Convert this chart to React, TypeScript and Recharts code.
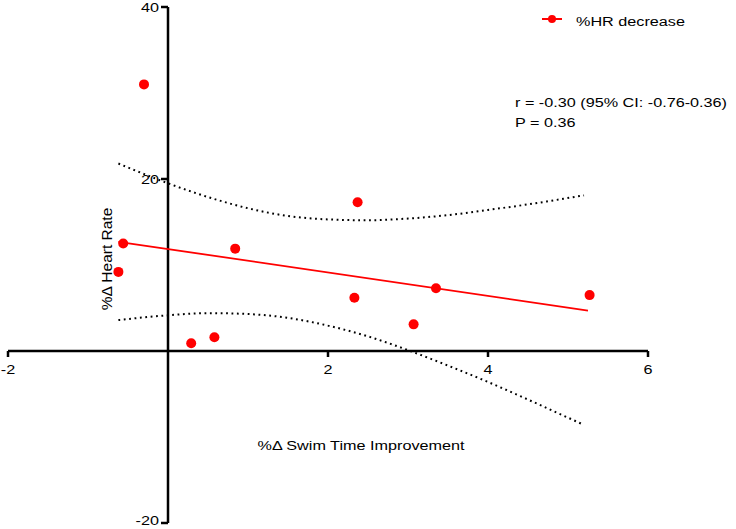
import React from 'react';
import { ComposedChart, XAxis, YAxis, Line, Scatter, ReferenceLine, ReferenceDot, Customized } from 'recharts';

// Observed data points (% swim time improvement vs % heart rate change)
const pointX = [-0.30, -0.56, -0.62, 0.84, 0.29, 0.58, 2.37, 2.33, 3.35, 3.07, 5.27];
const pointY = [31.0, 12.5, 9.2, 11.9, 0.9, 1.6, 17.3, 6.2, 7.3, 3.1, 6.5];

// Regression line end points
const fitX = [-0.62, 5.25];
const fitY = [12.7, 4.7];

// 95% confidence band
const bandX = [-0.62, 0, 0.5, 1, 1.5, 2, 2.5, 3, 3.5, 4, 4.5, 5.2];
const upperY = [21.8, 19.5, 17.9, 16.6, 15.7, 15.3, 15.2, 15.4, 15.8, 16.4, 17.05, 18.1];
const lowerY = [3.6, 4.15, 4.4, 4.3, 3.85, 2.95, 1.7, 0.1, -1.7, -3.6, -5.65, -8.6];

const xTicks = [-2, 2, 4, 6];
const yTicks = [40, 20, -20];

const legendLabel = '%HR decrease';
const xTitle = '%\u0394 Swim Time Improvement';
const yTitle = '%\u0394 Heart Rate';
const statLines = ['r = -0.30 (95% CI: -0.76-0.36)', 'P = 0.36'];

const points = pointX.map((x, i) => ({ x, y: pointY[i] }));
const fit = fitX.map((x, i) => ({ x, y: fitY[i] }));
const upper = bandX.map((x, i) => ({ x, y: upperY[i] }));
const lower = bandX.map((x, i) => ({ x, y: lowerY[i] }));

const FONT = '"Liberation Sans", Arial, Helvetica, sans-serif';
const RED = '#ff0000';
const SX = 1.2;
const FS = 13.5;

function SText({ x, y, anchor = 'start', size = FS, children }: any) {
  return (
    <g transform={`translate(${x},${y}) scale(${SX},1)`}>
      <text x={0} y={0} textAnchor={anchor} fontFamily={FONT} fontSize={size} fill="#000">
        {children}
      </text>
    </g>
  );
}

const XTickShape = (label: number) => (props: any) => {
  const { cx, cy } = props;
  return (
    <g>
      <line x1={cx} y1={cy} x2={cx} y2={cy + 6} stroke="#000" strokeWidth={2.5} />
      <SText x={cx} y={cy + 22.5} anchor="middle">{String(label)}</SText>
    </g>
  );
};

const YTickShape = (label: number) => (props: any) => {
  const { cx, cy } = props;
  return (
    <g>
      <line x1={cx - 7} y1={cy} x2={cx} y2={cy} stroke="#000" strokeWidth={2.5} />
      <SText x={cx - 9} y={Math.min(cy + 5, 525)} anchor="end">{String(label)}</SText>
    </g>
  );
};

const Annotations = () => (
  <g>
    {/* legend */}
    <line x1={542} y1={19} x2={562} y2={19} stroke={RED} strokeWidth={2} />
    <circle cx={552} cy={19} r={4} fill={RED} />
    <SText x={576} y={25.5}>{legendLabel}</SText>
    {/* statistics */}
    <SText x={515} y={107}>{statLines[0]}</SText>
    <SText x={515} y={126.5}>{statLines[1]}</SText>
    {/* axis titles */}
    <SText x={361} y={449.5} anchor="middle">{xTitle}</SText>
    <text
      x={0}
      y={0}
      transform="translate(111.5,259) rotate(-90)"
      textAnchor="middle"
      fontFamily={FONT}
      fontSize={15.5}
      fill="#000"
    >
      {yTitle}
    </text>
  </g>
);

const Dot = (props: any) => {
  const { cx, cy } = props;
  if (cx == null || cy == null) return null;
  return <circle cx={cx} cy={cy} r={5} fill={RED} />;
};

export default function App() {
  return (
    <div style={{ position: 'absolute', left: 0, top: 0, width: 736, height: 529, background: '#fff' }}>
      <ComposedChart width={736} height={529} margin={{ top: 7, right: 88, bottom: 6, left: 8 }}>
        <XAxis type="number" dataKey="x" domain={[-2, 6]} hide allowDataOverflow />
        <YAxis type="number" dataKey="y" domain={[-20, 40]} hide allowDataOverflow />
        <ReferenceLine y={0} stroke="#000" strokeWidth={2.5} />
        <ReferenceLine x={0} stroke="#000" strokeWidth={2.5} />
        {xTicks.map((t) => (
          <ReferenceDot key={'xt' + t} x={t} y={0} r={0} shape={XTickShape(t)} ifOverflow="visible" />
        ))}
        {yTicks.map((t) => (
          <ReferenceDot key={'yt' + t} x={0} y={t} r={0} shape={YTickShape(t)} ifOverflow="visible" />
        ))}
        <Line
          data={upper}
          dataKey="y"
          type="monotone"
          stroke="#000"
          strokeWidth={2}
          strokeDasharray="1.8 3.6"
          dot={false}
          activeDot={false}
          isAnimationActive={false}
        />
        <Line
          data={lower}
          dataKey="y"
          type="monotone"
          stroke="#000"
          strokeWidth={2}
          strokeDasharray="1.8 3.6"
          dot={false}
          activeDot={false}
          isAnimationActive={false}
        />
        <Line
          data={fit}
          dataKey="y"
          type="linear"
          stroke={RED}
          strokeWidth={1.8}
          dot={false}
          activeDot={false}
          isAnimationActive={false}
        />
        <Scatter data={points} dataKey="y" fill={RED} shape={Dot} isAnimationActive={false} />
        <Customized component={Annotations} />
      </ComposedChart>
    </div>
  );
}
